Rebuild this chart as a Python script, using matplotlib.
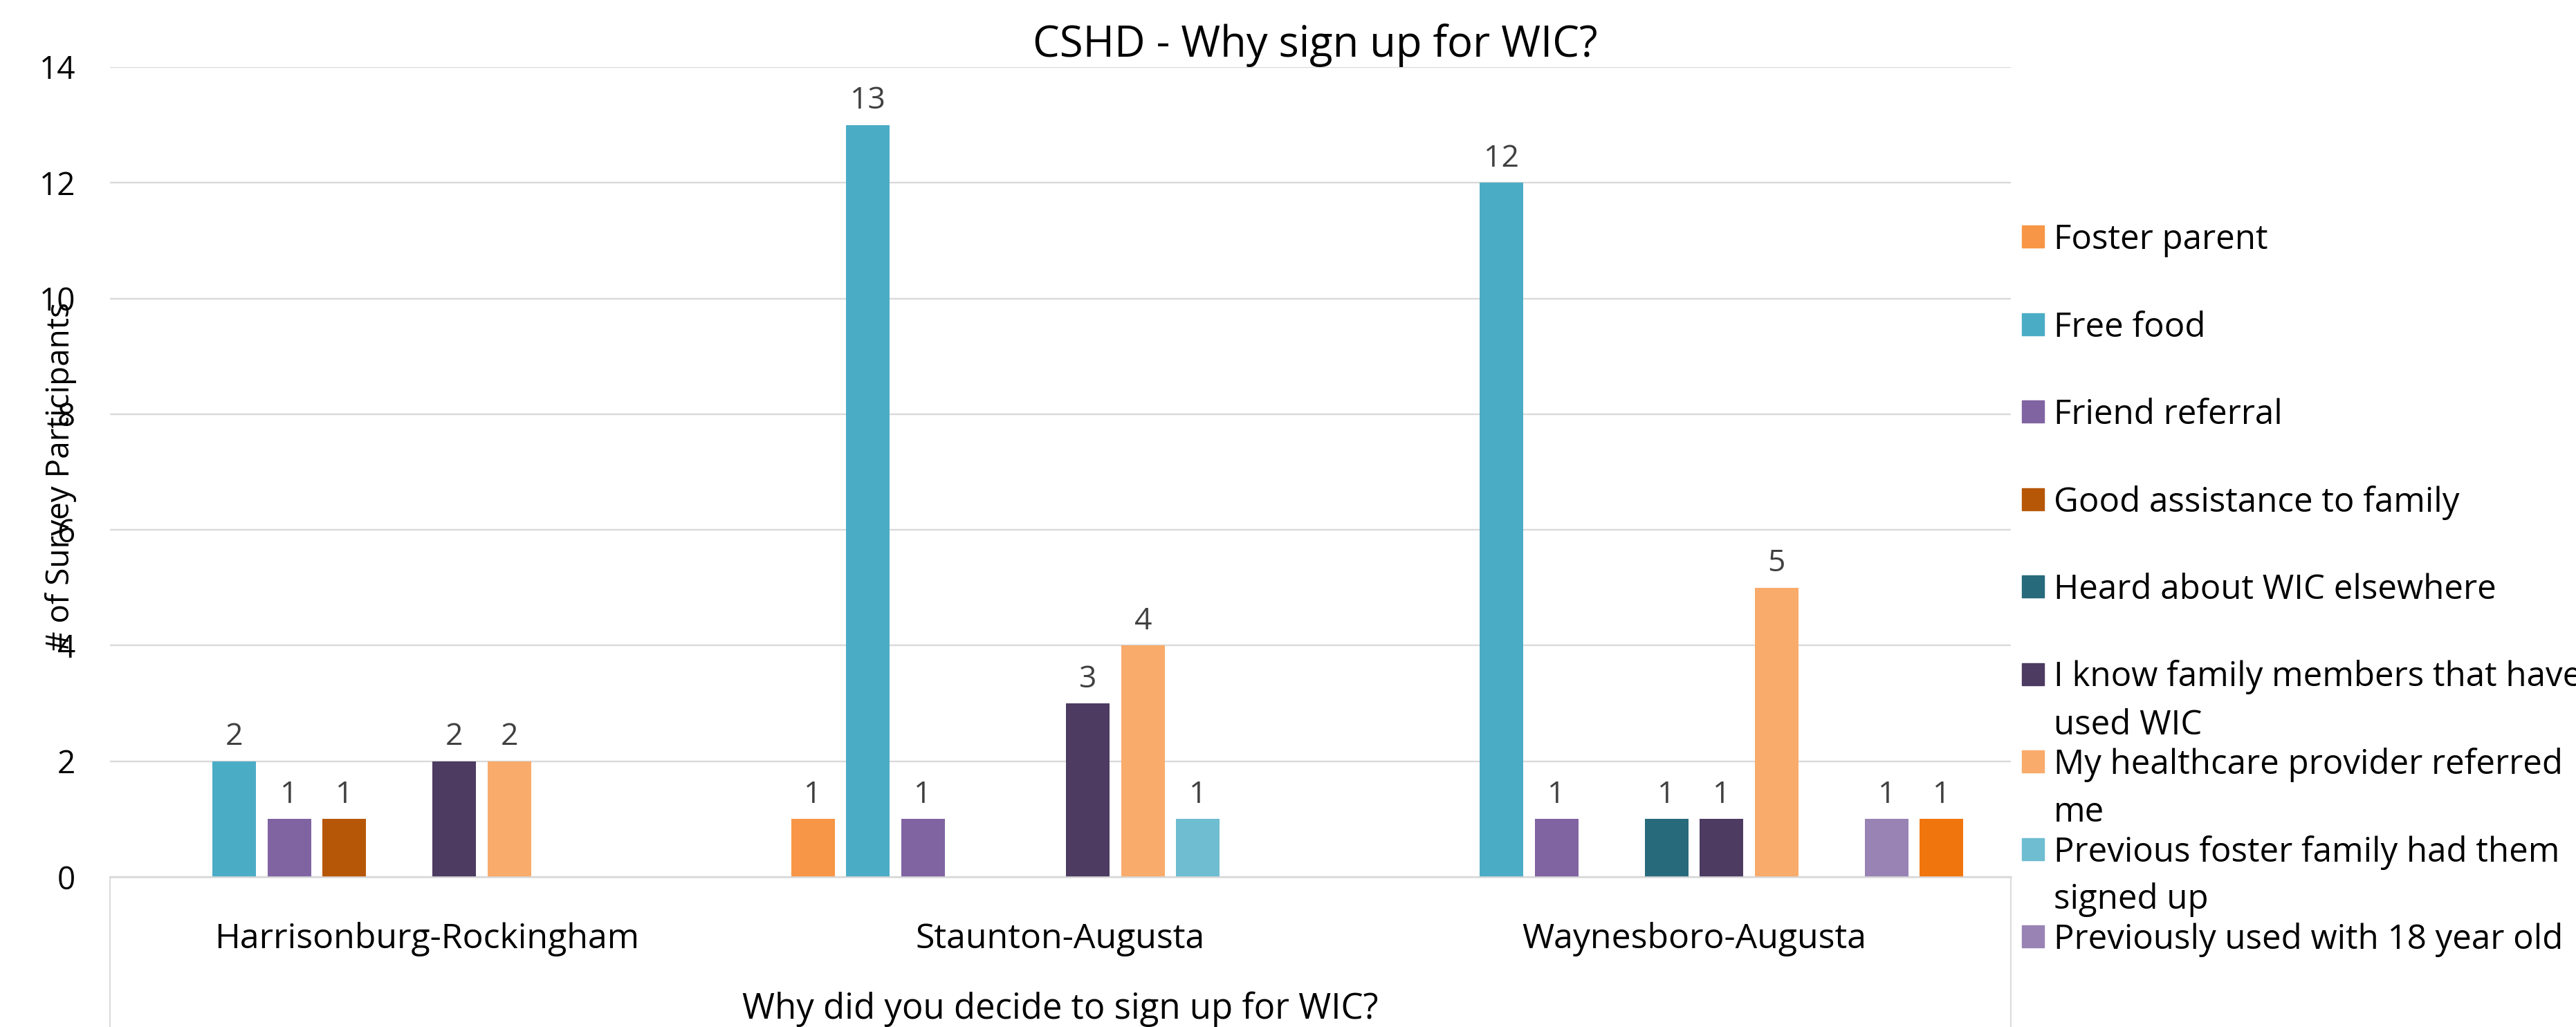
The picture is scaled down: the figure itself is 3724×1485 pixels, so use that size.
import matplotlib.pyplot as plt
import numpy as np
from matplotlib import font_manager
from matplotlib.patches import Rectangle

# data
regions = ["Harrisonburg-Rockingham", "Staunton-Augusta", "Waynesboro-Augusta"]
reasons = [
    "Foster parent",
    "Free food",
    "Friend referral",
    "Good assistance to family",
    "Heard about WIC elsewhere",
    "I know family members that have\nused WIC",
    "My healthcare provider referred\nme",
    "Previous foster family had them\nsigned up",
    "Previously used with 18 year old",
    "Other",
]
foster_parent = [0, 1, 0]
free_food = [2, 13, 12]
friend_referral = [1, 1, 1]
good_assistance = [1, 0, 0]
heard_elsewhere = [0, 0, 1]
family_used_wic = [2, 3, 1]
healthcare_referral = [2, 4, 5]
previous_foster = [0, 1, 0]
used_with_18yo = [0, 0, 1]
other = [0, 0, 1]
series = [foster_parent, free_food, friend_referral, good_assistance, heard_elsewhere,
          family_used_wic, healthcare_referral, previous_foster, used_with_18yo, other]
colors = ["#F79646", "#4BACC6", "#8064A2", "#B65708", "#276A7C",
          "#4D3B62", "#F9AB6B", "#6FBDD1", "#9983B5", "#F1750D"]
y_ticks = [0, 2, 4, 6, 8, 10, 12, 14]

installed = {f.name for f in font_manager.fontManager.ttflist}
main_font = "Open Sans" if "Open Sans" in installed else "DejaVu Sans"
plt.rcParams["font.family"] = [main_font, "DejaVu Sans"]

W, H = 3724, 1485
fig = plt.figure(figsize=(W / 100, H / 100), dpi=100)
ax = fig.add_axes([159 / W, 1 - 1268 / H, (2907 - 159) / W, (1268 - 97) / H])

x = np.arange(len(regions))
slot = 0.0868
width = 0.0688
for i, (vals, c) in enumerate(zip(series, colors)):
    bars = ax.bar(x + (i - 4.5) * slot, vals, width, color=c, zorder=2)
    ax.bar_label(bars, labels=[str(v) if v else "" for v in vals],
                 padding=9, fontsize=32, color="#404040")

ax.set_xlim(-0.5, 2.5)
ax.set_ylim(0, 14)
ax.set_yticks(y_ticks)
ax.tick_params(axis="y", length=0, pad=36, labelsize=33)
ax.set_xticks(x)
ax.set_xticklabels(regions, fontsize=36)
ax.tick_params(axis="x", length=0, pad=47)
ax.grid(axis="y", color="#D9D9D9", linewidth=1.7, zorder=0)
for s in ["top", "left", "right"]:
    ax.spines[s].set_visible(False)
ax.spines["bottom"].set_color("#D9D9D9")
ax.spines["bottom"].set_linewidth(1.8)
ax.set_axisbelow(True)

# category box edges below the axis
for xa in (0, 1):
    ax.plot([xa, xa], [0, -0.2], transform=ax.transAxes, color="#D9D9D9",
            linewidth=1.4, clip_on=False)

ax.text(0.5, -(1473 - 1268) / (1268 - 97), "Why did you decide to sign up for WIC?",
        transform=ax.transAxes, ha="center", va="baseline", fontsize=36.6)

fig.text(88 / W, 1 - 689 / H, "# of Survey Participants", rotation=90,
         ha="center", va="center", fontsize=33)

fig.text(1901 / W, 1 - 82 / H, "CSHD - Why sign up for WIC?", ha="center",
         va="baseline", fontsize=44.3)

# legend (Excel clips the last entry)
for i, (name, c) in enumerate(zip(reasons, colors)):
    yc = 342 + i * 126.5
    if yc + 16 > H:
        continue
    fig.patches.append(Rectangle((2923 / W, 1 - (yc + 16) / H), 32 / W, 32 / H,
                                 transform=fig.transFigure, color=c))
    for k, line in enumerate(name.split("\n")):
        fig.text(2969 / W, 1 - (yc + 18 + k * 69) / H, line, va="baseline", fontsize=35.5)

fig.savefig("out.png", dpi=100)
